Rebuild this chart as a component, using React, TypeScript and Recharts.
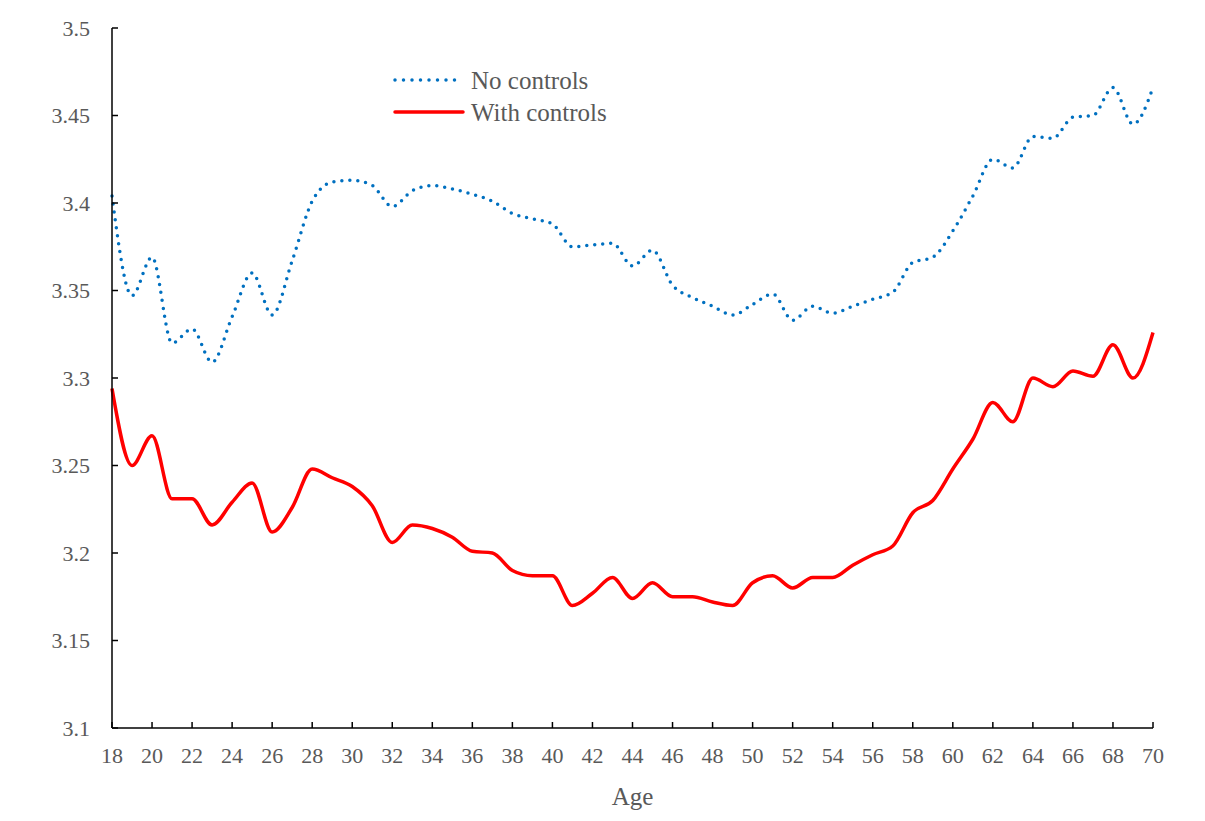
import { Legend, Line, LineChart, XAxis, YAxis } from "recharts"

const ages = [
  18, 19, 20, 21, 22, 23, 24, 25, 26, 27, 28, 29, 30, 31, 32, 33, 34, 35, 36, 37, 38, 39, 40, 41, 42, 43, 44,
  45, 46, 47, 48, 49, 50, 51, 52, 53, 54, 55, 56, 57, 58, 59, 60, 61, 62, 63, 64, 65, 66, 67, 68, 69, 70,
]

const noControls = [
  3.404, 3.347, 3.369, 3.32, 3.328, 3.309, 3.335, 3.36, 3.336, 3.367, 3.401, 3.412, 3.413, 3.41, 3.398, 3.407,
  3.41, 3.408, 3.405, 3.401, 3.394, 3.391, 3.388, 3.375, 3.376, 3.377, 3.364, 3.373, 3.353, 3.346, 3.341, 3.336,
  3.342, 3.348, 3.333, 3.341, 3.337, 3.341, 3.345, 3.349, 3.366, 3.369, 3.384, 3.404, 3.425, 3.42, 3.438, 3.437,
  3.449, 3.45, 3.466, 3.445, 3.466,
]

const withControls = [
  3.294, 3.25, 3.267, 3.231, 3.231, 3.216, 3.229, 3.24, 3.212, 3.226, 3.248, 3.243, 3.238, 3.227, 3.206, 3.216,
  3.214, 3.209, 3.201, 3.2, 3.19, 3.187, 3.187, 3.17, 3.177, 3.186, 3.174, 3.183, 3.175, 3.175, 3.172, 3.17,
  3.183, 3.187, 3.18, 3.186, 3.186, 3.193, 3.199, 3.204, 3.223, 3.23, 3.248, 3.265, 3.286, 3.275, 3.3, 3.295,
  3.304, 3.301, 3.319, 3.3, 3.326,
]

const yTicks = [3.1, 3.15, 3.2, 3.25, 3.3, 3.35, 3.4, 3.45, 3.5]

const data = ages.map((age, i) => ({ age, noControls: noControls[i], withControls: withControls[i] }))

const FONT = "'Liberation Serif', 'DejaVu Serif', serif"
const TEXT = "#595959"
const BLUE = "#0070C0"
const RED = "#FF0000"
const X_MARGIN = 19
const Y_MARGIN = 22

function XTick(props: any) {
  const { x, y, payload } = props
  const axisY = y - X_MARGIN
  return (
    <g>
      <line x1={x} x2={x} y1={axisY} y2={axisY - 6} stroke="#000" strokeWidth={1.5} />
      <text x={x} y={y} dy="0.71em" textAnchor="middle" fill={TEXT} fontSize={22} fontFamily={FONT}>
        {payload.value}
      </text>
    </g>
  )
}

function YTick(props: any) {
  const { x, y, payload } = props
  const axisX = x + Y_MARGIN
  return (
    <g>
      <line x1={axisX} x2={axisX + 6} y1={y} y2={y} stroke="#000" strokeWidth={1.5} />
      <text x={x} y={y} dy="0.355em" textAnchor="end" fill={TEXT} fontSize={22} fontFamily={FONT}>
        {String(payload.value)}
      </text>
    </g>
  )
}

function ChartLegend() {
  const items = [
    { label: "No controls", color: BLUE, dotted: true },
    { label: "With controls", color: RED, dotted: false },
  ]
  return (
    <div>
      {items.map((it) => (
        <div key={it.label} style={{ display: "flex", alignItems: "center", height: 32 }}>
          <svg width={78} height={12}>
            <line
              x1={2}
              x2={70}
              y1={6}
              y2={6}
              stroke={it.color}
              strokeWidth={3.5}
              strokeLinecap="round"
              strokeDasharray={it.dotted ? "0 8.5" : undefined}
            />
          </svg>
          <span style={{ fontFamily: FONT, fontSize: 25, color: TEXT, lineHeight: 1 }}>{it.label}</span>
        </div>
      ))}
    </div>
  )
}

export default function App() {
  return (
    <div style={{ width: 1197, height: 813, marginLeft: -2, borderLeft: "2px solid #d9d9d9" }}>
      <LineChart width={1197} height={813} data={data} margin={{ top: 20, right: 52, bottom: 13, left: 44 }}>
        <XAxis
          dataKey="age"
          interval={1}
          height={80}
          tickLine={false}
          tickSize={0}
          tickMargin={X_MARGIN}
          tick={<XTick />}
          axisLine={{ stroke: "#000", strokeWidth: 1.5 }}
          label={{ value: "Age", position: "insideBottom", offset: 3, fill: TEXT, fontSize: 25, fontFamily: FONT }}
        />
        <YAxis
          type="number"
          domain={[3.1, 3.5]}
          ticks={yTicks}
          width={60}
          tickLine={false}
          tickSize={0}
          tickMargin={Y_MARGIN}
          tick={<YTick />}
          axisLine={{ stroke: "#000", strokeWidth: 1.5 }}
        />
        <Legend
          content={<ChartLegend />}
          layout="horizontal"
          verticalAlign="middle"
          align="center"
          wrapperStyle={{ top: 56, left: 385, width: "auto" }}
        />
        <Line
          type="monotone"
          dataKey="noControls"
          stroke={BLUE}
          strokeWidth={3.5}
          strokeLinecap="round"
          strokeDasharray="0 8"
          dot={false}
          activeDot={false}
          isAnimationActive={false}
        />
        <Line
          type="monotone"
          dataKey="withControls"
          stroke={RED}
          strokeWidth={3.5}
          dot={false}
          activeDot={false}
          isAnimationActive={false}
        />
      </LineChart>
    </div>
  )
}
